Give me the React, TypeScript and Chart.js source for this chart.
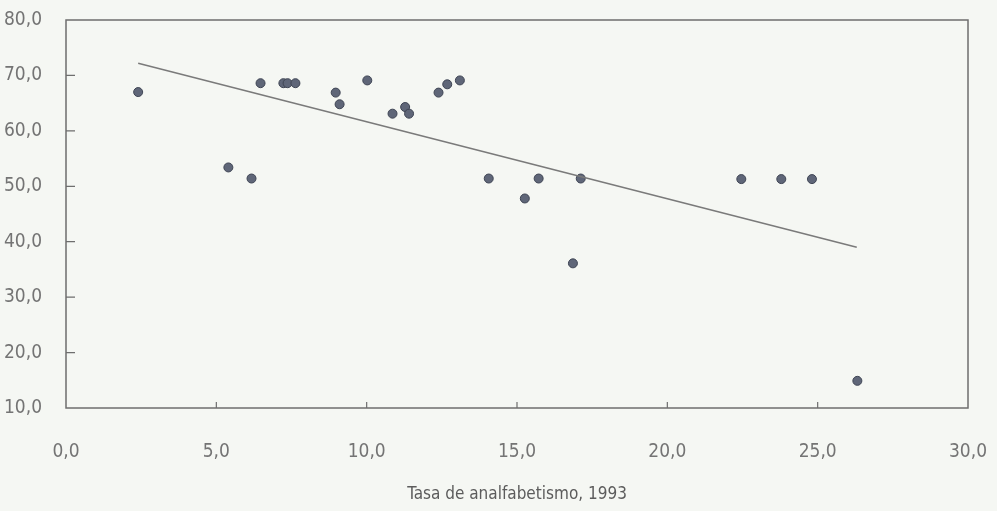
import React, { useEffect, useRef } from "react";
import { Chart, registerables } from "chart.js";

Chart.register(...registerables);

const illiteracyRate: number[] = [
  2.4, 5.4, 6.17, 6.47, 7.23, 7.37, 7.63, 8.97, 9.1, 10.02, 10.86, 11.28, 11.41,
  12.39, 12.68, 13.1, 14.06, 15.26, 15.72, 16.86, 17.12, 22.46, 23.79, 24.81, 26.32,
];
const yValues: number[] = [
  67.0, 53.4, 51.4, 68.6, 68.6, 68.6, 68.6, 66.9, 64.8, 69.1, 63.1, 64.3, 63.1,
  66.9, 68.4, 69.1, 51.4, 47.8, 51.4, 36.1, 51.4, 51.3, 51.3, 51.3, 14.9,
];
const trendX: number[] = [2.4, 26.3];
const trendY: number[] = [72.2, 39.0];
const xTicks: number[] = [0, 5, 10, 15, 20, 25, 30];
const yTicks: number[] = [10, 20, 30, 40, 50, 60, 70, 80];
const xTitle = "Tasa de analfabetismo, 1993";

const FONT = "'Liberation Sans Narrow', 'DejaVu Sans Condensed', 'Liberation Sans', sans-serif";
const fmt = (v: number) => v.toFixed(1).replace(".", ",");

const framePlugin = {
  id: "frame",
  beforeDraw(chart: any) {
    const { ctx, width, height } = chart;
    ctx.save();
    ctx.fillStyle = "#f5f7f3";
    ctx.fillRect(0, 0, width, height);
    ctx.restore();
  },
  afterDraw(chart: any) {
    const { ctx, chartArea: a, scales } = chart;
    ctx.save();
    ctx.strokeStyle = "#6e6e6e";
    ctx.lineWidth = 1.5;
    ctx.strokeRect(a.left, a.top, a.right - a.left, a.bottom - a.top);
    ctx.lineWidth = 1.2;
    ctx.beginPath();
    for (const v of yTicks) {
      if (v === yTicks[0] || v === yTicks[yTicks.length - 1]) continue;
      const y = scales.y.getPixelForValue(v);
      ctx.moveTo(a.left, y);
      ctx.lineTo(a.left + 9, y);
    }
    for (const v of xTicks) {
      if (v === xTicks[0] || v === xTicks[xTicks.length - 1]) continue;
      const x = scales.x.getPixelForValue(v);
      ctx.moveTo(x, a.bottom);
      ctx.lineTo(x, a.bottom - 6);
    }
    ctx.stroke();
    ctx.restore();
  },
};

const zeroPad = (s: any) => {
  s.paddingTop = 0;
  s.paddingBottom = 0;
  s.paddingLeft = 0;
  s.paddingRight = 0;
};

export default function App() {
  const ref = useRef<HTMLCanvasElement | null>(null);
  useEffect(() => {
    document.body.style.margin = "0";
    document.body.style.background = "#f5f7f3";
    if (!ref.current) return;
    const chart = new Chart(ref.current, {
      type: "scatter",
      data: {
        datasets: [
          {
            type: "line",
            data: trendX.map((x, i) => ({ x, y: trendY[i] })),
            borderColor: "#7a7a7a",
            borderWidth: 1.6,
            pointRadius: 0,
            fill: false,
          } as any,
          {
            data: illiteracyRate.map((x, i) => ({ x, y: yValues[i] })),
            backgroundColor: "#5f6678",
            borderColor: "#3f4554",
            borderWidth: 1,
            pointRadius: 4.5,
          },
        ],
      },
      options: {
        animation: false,
        responsive: false,
        layout: { padding: { top: 20, right: 29, left: 0, bottom: 0 } },
        plugins: { legend: { display: false }, tooltip: { enabled: false } },
        scales: {
          x: {
            type: "linear",
            min: 0,
            max: 30,
            afterBuildTicks: (s: any) => {
              s.ticks = xTicks.map((v) => ({ value: v }));
            },
            afterFit: (s: any) => {
              s.height = 511 - 408;
              zeroPad(s);
            },
            grid: { display: false, drawTicks: false },
            border: { display: false },
            ticks: {
              padding: 33,
              maxRotation: 0,
              color: "#747474",
              font: { family: FONT, size: 19 },
              callback: (v: any) => fmt(Number(v)),
            },
            title: {
              display: true,
              text: xTitle,
              color: "#5c5c5c",
              font: { family: FONT, size: 17 },
              padding: { top: 0, bottom: 6 },
            },
          },
          y: {
            type: "linear",
            min: 10,
            max: 80,
            afterBuildTicks: (s: any) => {
              s.ticks = yTicks.map((v) => ({ value: v }));
            },
            afterFit: (s: any) => {
              s.width = 66;
              zeroPad(s);
            },
            grid: { display: false, drawTicks: false },
            border: { display: false },
            ticks: {
              padding: 24,
              color: "#747474",
              font: { family: FONT, size: 19 },
              callback: (v: any) => fmt(Number(v)),
            },
          },
        },
      },
      plugins: [framePlugin],
    } as any);
    return () => chart.destroy();
  }, []);
  return (
    <div style={{ width: 997, height: 511 }}>
      <canvas ref={ref} width={997} height={511} style={{ display: "block" }} />
    </div>
  );
}
